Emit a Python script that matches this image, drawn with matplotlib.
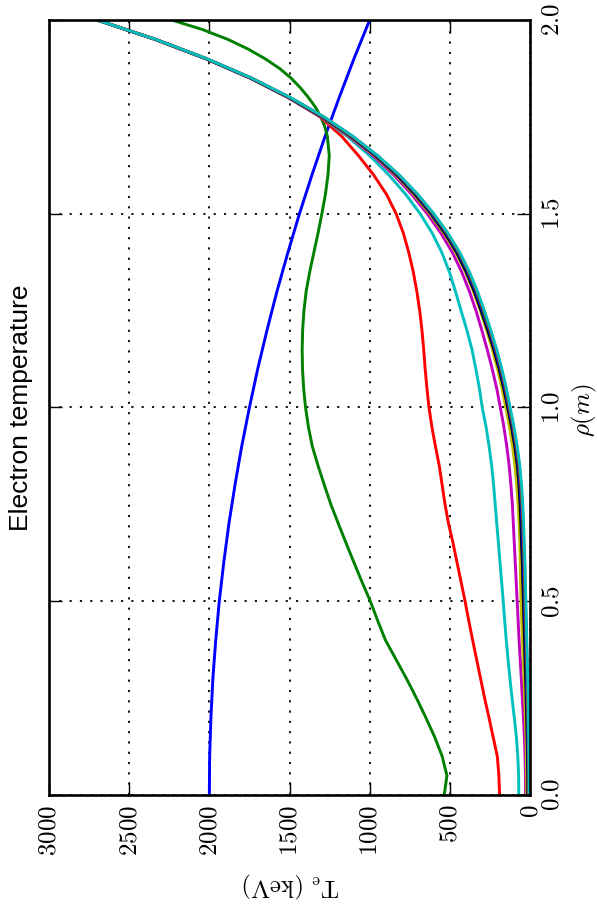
import matplotlib
matplotlib.use("Agg")
import matplotlib.pyplot as plt

plt.rcParams['mathtext.fontset'] = 'cm'

# radial grid (m)
rho = [0.00, 0.05, 0.10, 0.15, 0.20, 0.25, 0.30, 0.35, 0.40, 0.45,
       0.50, 0.55, 0.60, 0.65, 0.70, 0.75, 0.80, 0.85, 0.90, 0.95,
       1.00, 1.05, 1.10, 1.15, 1.20, 1.25, 1.30, 1.35, 1.40, 1.45,
       1.50, 1.55, 1.60, 1.65, 1.70, 1.75, 1.80, 1.85, 1.90, 1.95, 2.00]

# finer grid used for the second profile (sharp turn near the edge)
rho_t1 = [0.00, 0.05, 0.10, 0.15, 0.20, 0.25, 0.30, 0.35, 0.40, 0.45,
          0.50, 0.55, 0.60, 0.65, 0.70, 0.75, 0.80, 0.85, 0.90, 0.95,
          1.00, 1.05, 1.10, 1.15, 1.20, 1.25, 1.30, 1.35, 1.40, 1.45,
          1.50, 1.55, 1.60, 1.65, 1.70, 1.725, 1.75, 1.775, 1.80, 1.825,
          1.85, 1.875, 1.90, 1.925, 1.95, 1.975, 2.00]

# electron temperature profiles (keV), successive time steps
te_t0 = [2000, 1999, 1998, 1994, 1990, 1984, 1978, 1969, 1960, 1949,
         1938, 1924, 1910, 1894, 1878, 1859, 1840, 1819, 1798, 1774,
         1750, 1724, 1698, 1669, 1640, 1609, 1578, 1544, 1510, 1474,
         1438, 1399, 1360, 1319, 1278, 1234, 1190, 1144, 1098, 1049, 1000]
te_t1 = [535, 518, 548, 595, 650, 708, 770, 836, 902, 950,
         996, 1048, 1098, 1147, 1195, 1242, 1283, 1322, 1358, 1382,
         1400, 1412, 1419, 1421, 1418, 1410, 1396, 1374, 1348, 1322,
         1298, 1276, 1260, 1252, 1264, 1280, 1305, 1338, 1382, 1432,
         1490, 1562, 1652, 1758, 1885, 2040, 2235]
te_t2 = [190, 194, 204, 230, 256, 283, 308, 333, 358, 382,
         405, 430, 455, 480, 508, 530, 548, 566, 590, 612,
         630, 643, 654, 663, 674, 688, 706, 728, 756, 790,
         835, 895, 975, 1070, 1175, 1310, 1505, 1740, 2018, 2336, 2700]
te_t3 = [70, 71, 76, 85, 98, 112, 125, 137, 148, 158,
         167, 177, 187, 197, 207, 217, 227, 239, 255, 274,
         298, 316, 338, 362, 394, 430, 465, 503, 550, 610,
         685, 775, 880, 1000, 1140, 1305, 1508, 1744, 2020, 2338, 2700]
te_t4 = [28, 28, 31, 35, 41, 48, 54, 61, 68, 74,
         80, 86, 92, 98, 104, 110, 119, 130, 145, 163,
         185, 208, 236, 267, 301, 337, 378, 426, 484, 556,
         641, 738, 849, 980, 1130, 1305, 1510, 1745, 2021, 2338, 2700]
te_t5 = [21, 21, 23, 25, 29, 33, 37, 42, 47, 52,
         56, 59, 61, 64, 68, 74, 83, 94, 109, 128,
         151, 175, 203, 235, 271, 310, 353, 403, 463, 537,
         625, 724, 837, 970, 1123, 1300, 1507, 1744, 2021, 2338, 2700]
te_t6 = [14, 14, 16, 18, 21, 24, 27, 31, 34, 38,
         41, 45, 48, 53, 57, 62, 69, 79, 95, 115,
         139, 164, 193, 226, 264, 305, 348, 398, 457, 531,
         618, 717, 831, 965, 1118, 1297, 1505, 1743, 2021, 2338, 2700]
te_t7 = [11, 11, 12, 14, 17, 19, 22, 25, 28, 32,
         35, 39, 42, 46, 50, 55, 63, 73, 89, 109,
         133, 158, 186, 219, 256, 297, 340, 390, 449, 523,
         611, 710, 825, 959, 1113, 1292, 1501, 1740, 2019, 2337, 2700]
te_t8 = [8, 8, 10, 11, 13, 16, 18, 21, 24, 27,
         31, 34, 37, 41, 45, 50, 58, 69, 85, 105,
         129, 153, 181, 213, 251, 291, 334, 384, 444, 518,
         605, 705, 820, 954, 1109, 1289, 1498, 1737, 2017, 2336, 2700]
te_t9 = [7, 7, 8, 9, 12, 14, 16, 19, 22, 25,
         28, 31, 34, 39, 43, 48, 56, 67, 83, 103,
         127, 151, 179, 211, 248, 288, 331, 381, 441, 515,
         603, 703, 818, 952, 1107, 1287, 1497, 1736, 2016, 2335, 2700]
te_t10 = [6, 6, 7, 8, 10, 12, 14, 17, 20, 23,
          26, 29, 32, 36, 40, 45, 53, 64, 80, 100,
          124, 148, 176, 208, 245, 285, 328, 378, 438, 512,
          600, 700, 815, 950, 1105, 1285, 1495, 1735, 2015, 2335, 2700]

profiles = [(te_t0, rho), (te_t1, rho_t1), (te_t2, rho), (te_t3, rho),
            (te_t4, rho), (te_t5, rho), (te_t6, rho), (te_t7, rho),
            (te_t8, rho), (te_t9, rho), (te_t10, rho)]
colors = ['#0000ff', '#008000', '#ff0000', '#00bfbf', '#bf00bf', '#bfbf00',
          '#000000', '#0000ff', '#008000', '#ff0000', '#00bfbf']

te_ticks = [0, 500, 1000, 1500, 2000, 2500, 3000]
te_ticklabels = ['0', '500', '1000', '1500', '2000', '2500', '3000']
rho_ticks = [0.0, 0.5, 1.0, 1.5, 2.0]
rho_ticklabels = ['0.0', '0.5', '1.0', '1.5', '2.0']

fig = plt.figure(figsize=(5.97, 9.13), dpi=100)
ax = fig.add_axes([49/597, (913-795)/913, (530-49)/597, (795-20)/913])

for (te, r), c in zip(profiles, colors):
    ax.plot(te, r, color=c, lw=2.1, solid_capstyle='butt',
            solid_joinstyle='round')

ax.set_xlim(3000, 0)
ax.set_ylim(0, 2)
ax.set_xticks(te_ticks)
ax.set_xticklabels(['$' + t + '$' for t in te_ticklabels], rotation=90)
ax.set_yticks(rho_ticks)
ax.yaxis.tick_right()
ax.set_yticklabels(['$' + t + '$' for t in rho_ticklabels], rotation=90,
                   va='center')
ax.tick_params(axis='both', which='major', direction='in', length=9.5,
               width=1.0, labelsize=18, top=True, bottom=True,
               left=True, right=True, pad=7)
ax.tick_params(axis='y', labelleft=False, labelright=True)

ax.grid(True, color='black', linestyle=(0, (1.2, 4.5)), linewidth=1.3)
for s in ax.spines.values():
    s.set_linewidth(1.9)

fig.text(291/597, 1 - 885/913, r'$\mathrm{T_e\ (keV)}$', rotation=180,
         ha='center', va='center', fontsize=18)
fig.text(584/597, 1 - 410/913, r'$\rho(m)$', rotation=90,
         ha='center', va='center', fontsize=18)
fig.text(21/597, 1 - 408/913, 'Electron temperature', rotation=90,
         ha='center', va='center', fontsize=19,
         family=['Liberation Sans', 'DejaVu Sans'])

fig.savefig('out.png', dpi=100)
